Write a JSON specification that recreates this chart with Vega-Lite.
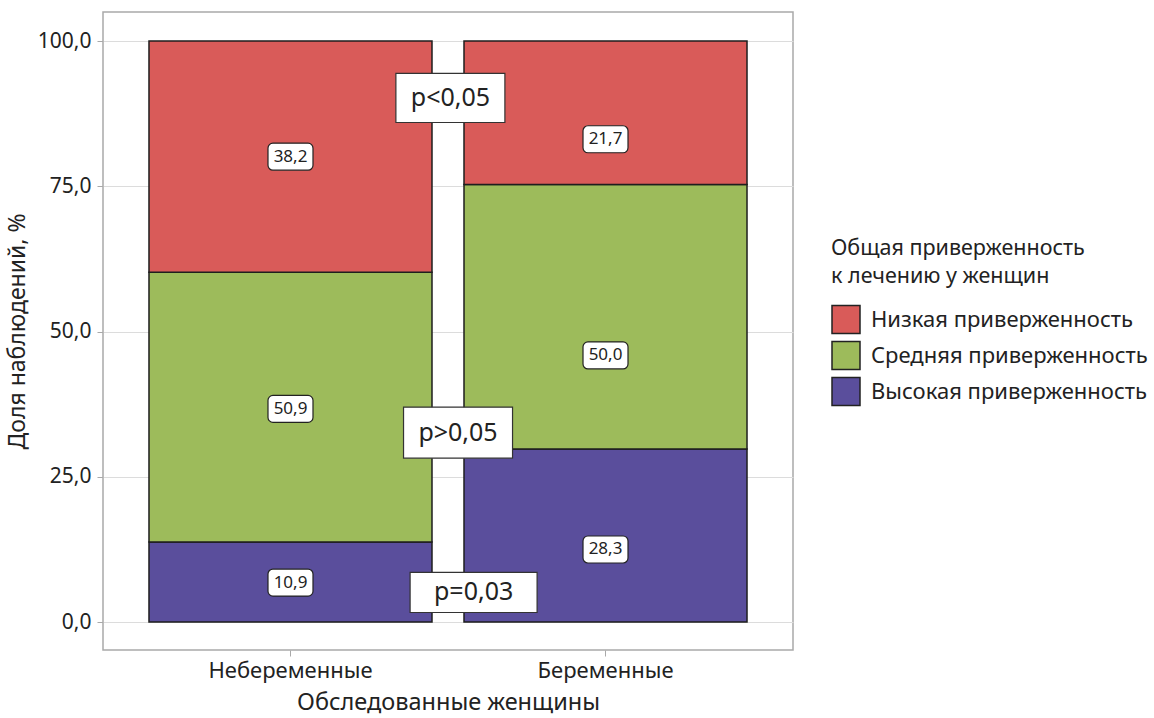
{
  "$schema": "https://vega.github.io/schema/vega-lite/v6.json",
  "width": 690,
  "height": 638,
  "padding": {"left": 6, "top": 12, "right": 5, "bottom": 5},
  "background": "white",
  "config": {
    "font": "Noto Sans",
    "view": {"stroke": "#a9a9a9", "strokeWidth": 1.5},
    "axis": {
      "labelFont": "Noto Sans", "labelFontSize": 21, "labelColor": "#222",
      "titleFont": "Noto Sans", "titleFontSize": 23, "titleFontWeight": "normal", "titleColor": "#222",
      "tickColor": "#a9a9a9", "tickSize": 6, "gridColor": "#dcdcdc", "gridWidth": 1.2, "domain": false
    },
    "legend": {
      "titleFont": "Noto Sans", "titleFontSize": 21.5, "titleFontWeight": "normal", "titleColor": "#222",
      "labelFont": "Noto Sans", "labelFontSize": 22, "labelColor": "#222", "labelLimit": 0, "titleLimit": 0
    }
  },
  "datasets": {
    "bars": [
      {"g": "Небеременные", "lvl": "Высокая приверженность", "k": 1, "v": 13.8, "lab": "10,9", "ly": 6.8},
      {"g": "Небеременные", "lvl": "Средняя приверженность", "k": 2, "v": 46.4, "lab": "50,9", "ly": 36.7},
      {"g": "Небеременные", "lvl": "Низкая приверженность", "k": 3, "v": 39.8, "lab": "38,2", "ly": 80.1},
      {"g": "Беременные", "lvl": "Высокая приверженность", "k": 1, "v": 29.8, "lab": "28,3", "ly": 12.5},
      {"g": "Беременные", "lvl": "Средняя приверженность", "k": 2, "v": 45.5, "lab": "50,0", "ly": 45.9},
      {"g": "Беременные", "lvl": "Низкая приверженность", "k": 3, "v": 24.7, "lab": "21,7", "ly": 83.1}
    ],
    "pv": [
      {"g": "Небеременные", "p": "p<0,05", "py": 90.2},
      {"g": "Небеременные", "p": "p>0,05", "py": 32.6},
      {"g": "Небеременные", "p": "p=0,03", "py": 5.1}
    ]
  },
  "layer": [
    {
      "data": {"name": "bars"},
      "mark": {"type": "bar", "stroke": "#1e1e1e", "strokeWidth": 1.5, "opacity": 1},
      "encoding": {
        "x": {"field": "g", "type": "nominal", "sort": ["Небеременные", "Беременные"],
              "scale": {"paddingInner": 0.1016, "paddingOuter": 0.146},
              "axis": {"labelAngle": 0, "labelPadding": 4, "labelFontSize": 22, "titlePadding": 9, "titleFontSize": 23.5}, "title": "Обследованные женщины"},
        "y": {"field": "v", "type": "quantitative", "stack": "zero",
              "scale": {"domain": [-4.8, 105], "nice": false, "zero": false},
              "axis": {"values": [0, 25, 50, 75, 100], "labelExpr": "replace(format(datum.value, '.1f'), '.', ',')", "labelPadding": 6, "titlePadding": 8},
              "title": "Доля наблюдений, %"},
        "color": {"field": "lvl", "type": "nominal",
                  "scale": {"domain": ["Низкая приверженность", "Средняя приверженность", "Высокая приверженность"],
                            "range": ["#d95b59", "#9dbb5b", "#5a4e9c"]},
                  "legend": {"title": ["Общая приверженность", "к лечению у женщин"], "orient": "none",
                             "legendX": 728, "legendY": 226, "titleLineHeight": 28, "titlePadding": 17,
                             "symbolType": "square", "symbolSize": 784, "symbolStrokeColor": "#222", "symbolStrokeWidth": 1.5,
                             "symbolOpacity": 1, "rowPadding": 2, "labelOffset": 10}},
        "order": {"field": "k", "type": "quantitative", "sort": "ascending"}
      }
    },
    {
      "data": {"name": "bars"},
      "mark": {"type": "point", "shape": "M-0.78,-0.6 L0.78,-0.6 A0.22,0.22 0 0 1 1,-0.38 L1,0.38 A0.22,0.22 0 0 1 0.78,0.6 L-0.78,0.6 A0.22,0.22 0 0 1 -1,0.38 L-1,-0.38 A0.22,0.22 0 0 1 -0.78,-0.6 Z",
               "size": 2025, "filled": true, "fill": "white", "stroke": "#222", "strokeWidth": 1.2, "opacity": 1},
      "encoding": {
        "x": {"field": "g", "type": "nominal", "sort": ["Небеременные", "Беременные"], "title": "Обследованные женщины"},
        "y": {"field": "ly", "type": "quantitative", "title": "Доля наблюдений, %"}
      }
    },
    {
      "data": {"name": "bars"},
      "mark": {"type": "text", "fontSize": 17, "color": "#222", "align": "center", "baseline": "middle"},
      "encoding": {
        "x": {"field": "g", "type": "nominal", "sort": ["Небеременные", "Беременные"], "title": "Обследованные женщины"},
        "y": {"field": "ly", "type": "quantitative", "title": "Доля наблюдений, %"},
        "text": {"field": "lab"}
      }
    },
    {
      "data": {"name": "pv"},
      "transform": [{"filter": "datum.p === 'p<0,05'"}],
      "layer": [
        {"mark": {"type": "point", "shape": "M-1,-0.45 L1,-0.45 L1,0.45 L-1,0.45 Z", "size": 11881, "filled": true, "fill": "white", "stroke": "#333", "strokeWidth": 1.2, "opacity": 1}},
        {"mark": {"type": "text", "fontSize": 25, "color": "#222", "align": "center", "baseline": "middle"}, "encoding": {"text": {"field": "p"}}}
      ],
      "encoding": {
        "x": {"field": "g", "type": "nominal", "sort": ["Небеременные", "Беременные"], "bandPosition": 1.065, "title": "Обследованные женщины"},
        "y": {"field": "py", "type": "quantitative", "title": "Доля наблюдений, %"}
      }
    },
    {
      "data": {"name": "pv"},
      "transform": [{"filter": "datum.p === 'p>0,05'"}],
      "layer": [
        {"mark": {"type": "point", "shape": "M-1,-0.468 L1,-0.468 L1,0.468 L-1,0.468 Z", "size": 11881, "filled": true, "fill": "white", "stroke": "#333", "strokeWidth": 1.2, "opacity": 1}},
        {"mark": {"type": "text", "fontSize": 25, "color": "#222", "align": "center", "baseline": "middle"}, "encoding": {"text": {"field": "p"}}}
      ],
      "encoding": {
        "x": {"field": "g", "type": "nominal", "sort": ["Небеременные", "Беременные"], "bandPosition": 1.092, "title": "Обследованные женщины"},
        "y": {"field": "py", "type": "quantitative", "title": "Доля наблюдений, %"}
      }
    },
    {
      "data": {"name": "pv"},
      "transform": [{"filter": "datum.p === 'p=0,03'"}],
      "layer": [
        {"mark": {"type": "point", "shape": "M-1,-0.315 L1,-0.315 L1,0.315 L-1,0.315 Z", "size": 16129, "filled": true, "fill": "white", "stroke": "#333", "strokeWidth": 1.2, "opacity": 1}},
        {"mark": {"type": "text", "fontSize": 25, "color": "#222", "align": "center", "baseline": "middle"}, "encoding": {"text": {"field": "p"}}}
      ],
      "encoding": {
        "x": {"field": "g", "type": "nominal", "sort": ["Небеременные", "Беременные"], "bandPosition": 1.147, "title": "Обследованные женщины"},
        "y": {"field": "py", "type": "quantitative", "title": "Доля наблюдений, %"}
      }
    }
  ]
}
